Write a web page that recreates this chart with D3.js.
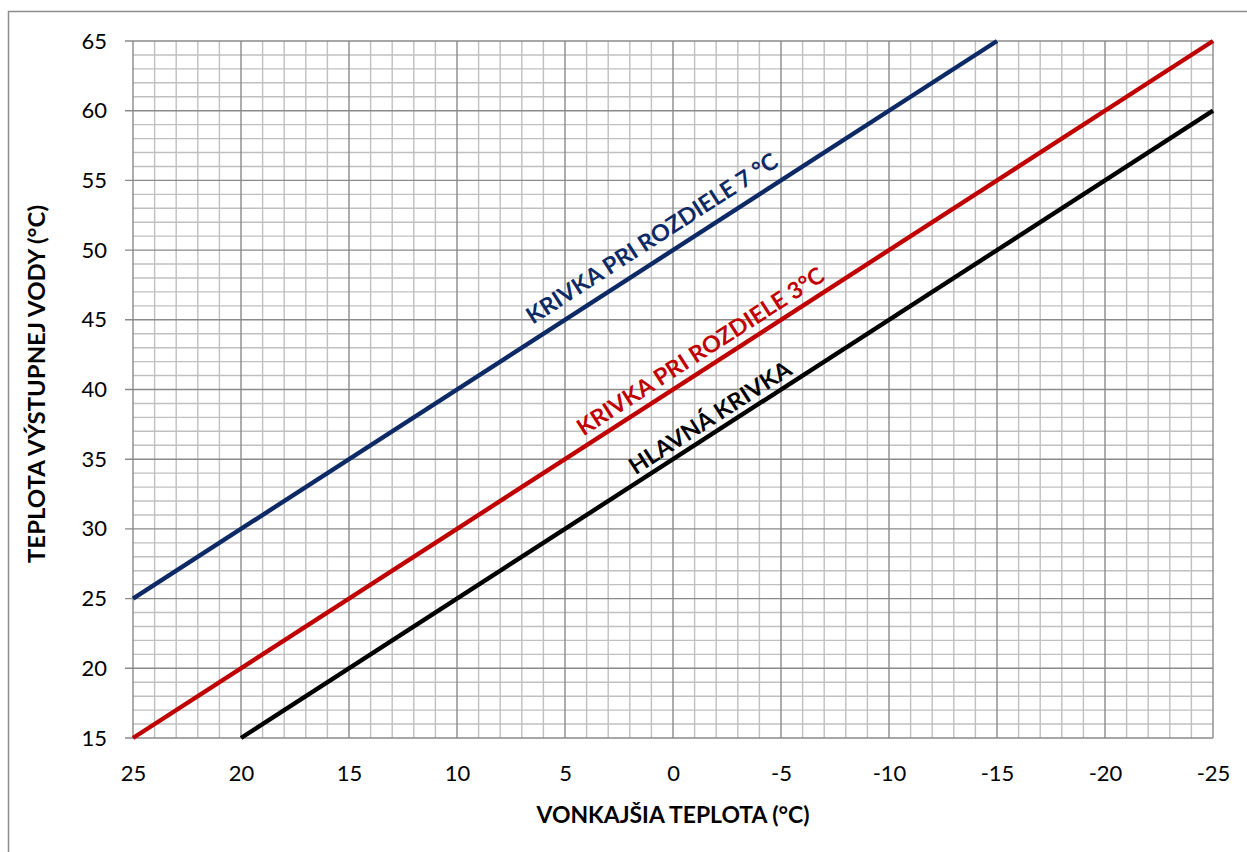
<!DOCTYPE html>
<html><head><meta charset="utf-8">
<script src="https://cdn.jsdelivr.net/npm/d3@7"></script>
<style>body{margin:0;background:#fff}svg{display:block}text{font-family:Lato,"Open Sans",sans-serif}</style>
</head><body><svg id="c" width="1247" height="852"></svg>
<script>
// Data
const xTicks = [25,20,15,10,5,0,-5,-10,-15,-20,-25];
const yTicks = [15,20,25,30,35,40,45,50,55,60,65];
const seriesNames = ["KRIVKA PRI ROZDIELE 7 °C","KRIVKA PRI ROZDIELE 3°C","HLAVNÁ KRIVKA"];
const seriesColors = ["#0d2a66","#c00000","#000000"];
const outdoorTemps = [[25,-15],[25,-25],[20,-25]];
const waterTemps = [[25,65],[15,65],[15,60]];
const labelX = [1.0,-1.25,-1.7];
const labelY = [50.9,42.8,38.05];
const labelLen = [294,289,188];

const svg = d3.select("#c");
const L=133,R=1213,T=41,B=738;
const x = d3.scaleLinear().domain([25,-25]).range([L,R]);
const y = d3.scaleLinear().domain([15,65]).range([B,T]);

// outer border
svg.append("path").attr("d","M8.5,852 V11.5 H1247").attr("fill","none").attr("stroke","#8c8c8c").attr("stroke-width",1.5);

// minor grid
const g = svg.append("g");
d3.range(-25,26).forEach(v=>{
  if (v%5!==0) g.append("line").attr("x1",x(v)).attr("x2",x(v)).attr("y1",T).attr("y2",B).attr("stroke","#c0c0c0").attr("stroke-width",1.4);
});
d3.range(15,66).forEach(v=>{
  if (v%5!==0) g.append("line").attr("y1",y(v)).attr("y2",y(v)).attr("x1",L).attr("x2",R).attr("stroke","#c0c0c0").attr("stroke-width",1.4);
});
// major grid
xTicks.forEach(v=>g.append("line").attr("x1",x(v)).attr("x2",x(v)).attr("y1",T).attr("y2",B).attr("stroke","#8a8a8a").attr("stroke-width",1.4));
yTicks.forEach(v=>g.append("line").attr("y1",y(v)).attr("y2",y(v)).attr("x1",L-8).attr("x2",R).attr("stroke","#8a8a8a").attr("stroke-width",1.4));

// axes labels via d3 axes
const ya = svg.append("g").attr("transform",`translate(${L-26},0)`).call(d3.axisLeft(y).tickValues(yTicks).tickSize(0).tickPadding(0));
ya.select(".domain").remove();
ya.selectAll("text").attr("font-size",22).attr("fill","#000").attr("font-family","Lato,sans-serif");
const xa = svg.append("g").attr("transform",`translate(0,${B+27})`).call(d3.axisBottom(x).tickValues(xTicks).tickSize(0).tickPadding(0).tickFormat(d3.format("d")));
xa.select(".domain").remove();
xa.selectAll("text").attr("font-size",22).attr("fill","#000").attr("font-family","Lato,sans-serif").text(d=>d<0?"-"+Math.abs(d):d);

// lines
const line = d3.line().x(d=>x(d[0])).y(d=>y(d[1]));
seriesNames.forEach((n,i)=>{
  const pts = outdoorTemps[i].map((t,j)=>[t,waterTemps[i][j]]);
  svg.append("path").attr("d",line(pts)).attr("fill","none").attr("stroke",seriesColors[i]).attr("stroke-width",4.4);
});
// line labels
const ang = -Math.atan((y(15)-y(16))/(x(24)-x(25)))*180/Math.PI;
seriesNames.forEach((n,i)=>{
  svg.append("text").attr("transform",`translate(${x(labelX[i])},${y(labelY[i])}) rotate(${ang})`)
    .attr("text-anchor","middle").attr("dominant-baseline","central")
    .attr("font-size",23).attr("font-weight","bold").attr("fill",seriesColors[i])
    .attr("textLength",labelLen[i]).attr("lengthAdjust","spacingAndGlyphs").text(n);
});

// axis titles
svg.append("text").attr("x",673).attr("y",823).attr("text-anchor","middle").attr("font-size",22).attr("font-weight","bold")
  .attr("textLength",273).attr("lengthAdjust","spacingAndGlyphs").text("VONKAJŠIA TEPLOTA (°C)");
svg.append("text").attr("transform","translate(45,384) rotate(-90)").attr("text-anchor","middle").attr("font-size",22).attr("font-weight","bold")
  .attr("textLength",358).attr("lengthAdjust","spacingAndGlyphs").text("TEPLOTA VÝSTUPNEJ VODY (°C)");
</script></body></html>
